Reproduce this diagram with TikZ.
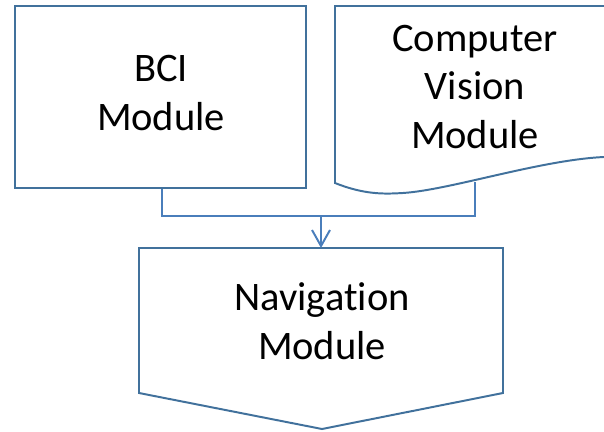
\documentclass[tikz,border=0pt]{standalone}
\usepackage{fontspec}
\setmainfont{Carlito}[Ligatures=NoCommon]
\usepackage{tikz}
\usetikzlibrary{arrows.meta}
\definecolor{shapeline}{HTML}{41719C}
\definecolor{wireline}{HTML}{4A7EBB}

\begin{document}
\begin{tikzpicture}[x=0.025cm,y=-0.025cm,
        label/.style={align=center,font=\fontsize{28.8pt}{34.5pt}\selectfont},
        modbox/.style={draw=shapeline,line width=1.4pt,minimum width=7.275cm,minimum height=4.55cm},
        wire/.style={draw=wireline,line width=1.4pt}]
            \useasboundingbox (0,0) rectangle (604,432);

            % BCI box
            \node[modbox] (bci) at (160.5,97) {};
            \node[label] (bcitext) at (161,93) {BCI\\Module};

            % computer vision, a document shape running off the right edge
            \draw[shapeline,line width=1.4pt] (604,6) -- (335,6) -- (335,183)
                .. controls (365,195) and (385,194) .. (403,193)
                .. controls (450,190) and (540,160) .. (604,157);
            \node[label] (cv) at (475,87) {Computer\\Vision\\Module};
            \coordinate (cvfoot) at (475,182);

            % navigation, off-page connector shape
            \draw[shapeline,line width=1.4pt] (139,248) -- (503,248) -- (503,393)
                -- (322,429) -- (139,393) -- cycle;
            \coordinate (navtop) at (321,248);
            \node[label] (nav) at (322,321) {Navigation\\Module};

            % wires
            \coordinate (bus) at (321,216);
            \draw[wire] (bci.south -| 162,0) |- (bus) -| (cvfoot);
            \draw[wire,-{Straight Barb[length=0.4cm,width=0.45cm]}] (bus) -- (navtop);
        \end{tikzpicture}
\end{document}
